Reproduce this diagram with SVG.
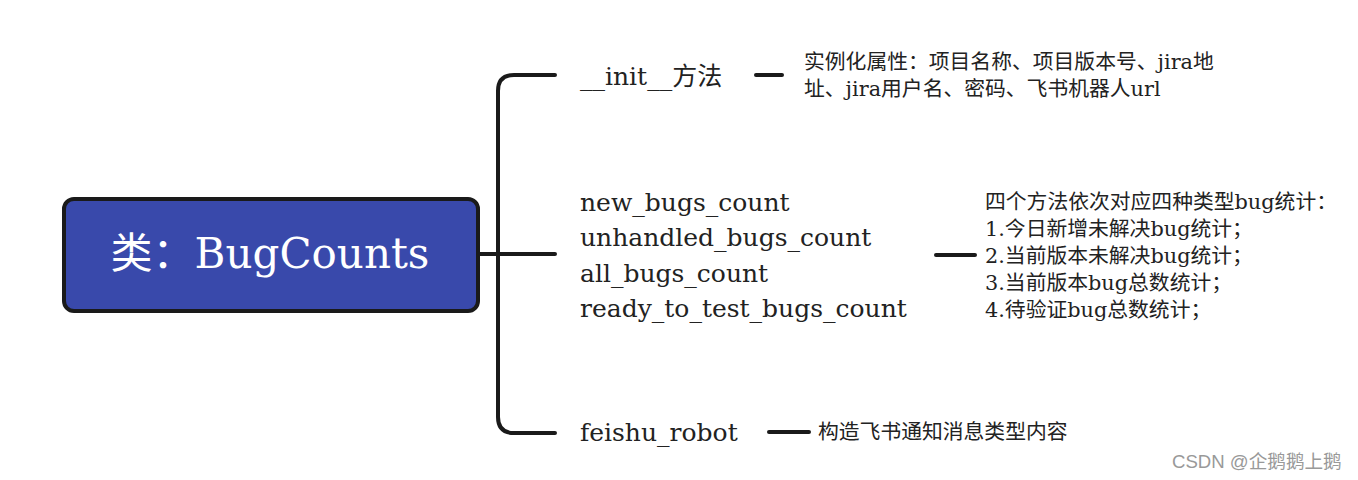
<svg xmlns="http://www.w3.org/2000/svg" width="1358" height="480" viewBox="0 0 1358 480">
<style>
.m{font-family:"DejaVu Serif","Noto Sans CJK SC",serif;font-size:25px;fill:#222}
.d{font-family:"DejaVu Serif","Noto Sans CJK SC",serif;font-size:20.8px;fill:#222}
.c{fill:none;stroke:#1a1a1a;stroke-width:4;stroke-linecap:round;stroke-linejoin:round}
</style>
<rect width="1358" height="480" fill="#ffffff"/>
<g id="connectors">
<path class="c" d="M478,254 H555"/>
<path class="c" d="M555,75 H514 Q498,75 498,91 V417 Q498,433 514,433 H555"/>
<path class="c" d="M756,75 H782"/>
<path class="c" d="M936,255 H975"/>
<path class="c" d="M769,432 H809"/>
</g>
<g id="root">
<rect x="64" y="199" width="414" height="112" rx="10" fill="#3949ab" stroke="#1a1a1a" stroke-width="4"/>
<text x="270" y="268" text-anchor="middle" font-family="DejaVu Serif,Noto Sans CJK SC,serif" font-size="42" fill="#ffffff">类：BugCounts</text>
</g>
<g id="init">
<text class="m" x="580" y="85">__init__方法</text>
</g>
<g id="init-desc">
<text class="d" x="804" y="69">实例化属性：项目名称、项目版本号、jira地</text>
<text class="d" x="804" y="96">址、jira用户名、密码、飞书机器人url</text>
</g>
<g id="counts">
<text class="m" x="580" y="211">new_bugs_count</text>
<text class="m" x="580" y="246">unhandled_bugs_count</text>
<text class="m" x="580" y="282">all_bugs_count</text>
<text class="m" x="580" y="317">ready_to_test_bugs_count</text>
</g>
<g id="counts-desc">
<text class="d" x="985" y="209">四个方法依次对应四种类型bug统计：</text>
<text class="d" x="985" y="236">1.今日新增未解决bug统计；</text>
<text class="d" x="985" y="263">2.当前版本未解决bug统计；</text>
<text class="d" x="985" y="290">3.当前版本bug总数统计；</text>
<text class="d" x="985" y="317">4.待验证bug总数统计；</text>
</g>
<g id="feishu">
<text class="m" x="580" y="441">feishu_robot</text>
</g>
<g id="feishu-desc">
<text class="d" x="818" y="439">构造飞书通知消息类型内容</text>
</g>
<text x="1172" y="468" font-family="Liberation Sans,Noto Sans CJK SC,sans-serif" font-size="18.6" fill="#999999">CSDN @企鹅鹅上鹅</text>
</svg>
